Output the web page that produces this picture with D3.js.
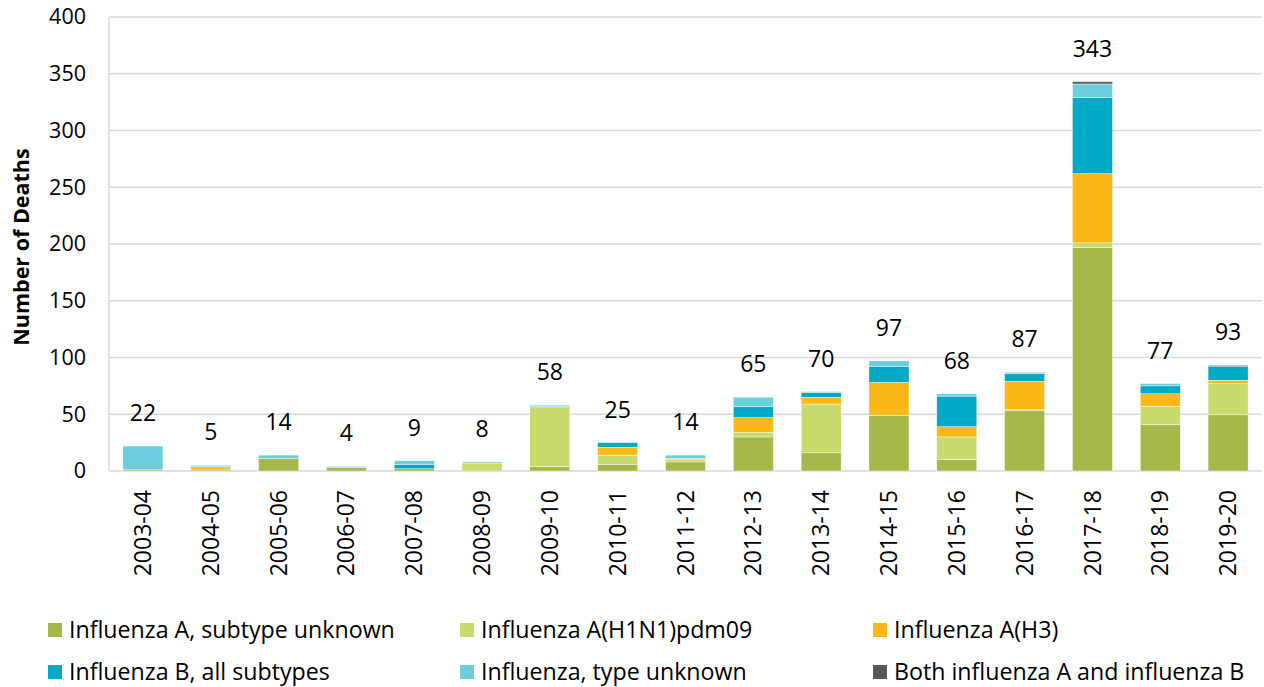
<!DOCTYPE html>
<html>
<head>
<meta charset="utf-8">
<script src="https://cdn.jsdelivr.net/npm/d3@7/dist/d3.min.js"></script>
<style>
  html, body { margin: 0; padding: 0; background: #fff; }
  svg { display: block; font-family: "Open Sans", sans-serif; }
</style>
</head>
<body>
<svg id="chart" width="1264" height="687"></svg>
<script>
// ---- Data ----
const seasons = ["2003-04","2004-05","2005-06","2006-07","2007-08","2008-09","2009-10","2010-11","2011-12","2012-13","2013-14","2014-15","2015-16","2016-17","2017-18","2018-19","2019-20"];
const seriesNames = ["Influenza A, subtype unknown","Influenza A(H1N1)pdm09","Influenza A(H3)","Influenza B, all subtypes","Influenza, type unknown","Both influenza A and influenza B"];
const aUnknown  = [1, 1, 11, 3, 2, 0, 4, 6, 8, 30, 16, 49, 10, 53, 197, 41, 50];
const h1n1      = [0, 0, 0, 0, 0, 7, 52, 8, 2, 4, 43, 0, 20, 1, 4, 16, 27];
const h3        = [0, 2, 0, 0, 0, 0, 0, 7, 1, 13, 6, 29, 9, 25, 61, 11, 3];
const fluB      = [0, 1, 0, 0, 4, 0, 1, 4, 0, 10, 4, 14, 27, 7, 67, 7, 12];
const typeUnk   = [21, 1, 3, 1, 3, 1, 1, 0, 3, 8, 1, 5, 2, 1, 12, 2, 0];
const both      = [0, 0, 0, 0, 0, 0, 0, 0, 0, 0, 0, 0, 0, 0, 2, 0, 1];
const totals    = [22, 5, 14, 4, 9, 8, 58, 25, 14, 65, 70, 97, 68, 87, 343, 77, 93];
const yTicks    = [0, 50, 100, 150, 200, 250, 300, 350, 400];
const colors    = ["#a7b84a", "#c8dc6e", "#fdb818", "#00a9c5", "#6ecddc", "#595959"];

const seriesArrays = [aUnknown, h1n1, h3, fluB, typeUnk, both];
const rows = seasons.map((s, i) => {
  const r = { season: s };
  seriesNames.forEach((n, k) => r[n] = seriesArrays[k][i]);
  return r;
});

// ---- Layout ----
const svg = d3.select("#chart");
const plotL = 109, plotR = 1262, plotT = 17, plotB = 471;

const x = d3.scaleBand().domain(seasons).range([plotL, plotR]).paddingInner(0.41).paddingOuter(0.205);
const y = d3.scaleLinear().domain([0, 400]).range([plotB, plotT]);

// gridlines
svg.append("g").selectAll("line").data(yTicks).join("line")
  .attr("x1", plotL).attr("x2", plotR)
  .attr("y1", d => y(d)).attr("y2", d => y(d))
  .attr("stroke", "#d9d9d9").attr("stroke-width", 1.5);

// left axis line
svg.append("line").attr("x1", plotL).attr("x2", plotL).attr("y1", plotT).attr("y2", plotB)
  .attr("stroke", "#d9d9d9").attr("stroke-width", 1.5);

// y axis
const yAxis = svg.append("g").attr("transform", `translate(${plotL},0)`)
  .call(d3.axisLeft(y).tickValues(yTicks).tickSize(0).tickPadding(23));
yAxis.select(".domain").remove();
yAxis.selectAll("text").attr("font-size", 21.5).attr("fill", "#000").attr("font-family", "Open Sans, sans-serif");

// stacked bars
const stack = d3.stack().keys(seriesNames);
const stacked = stack(rows);
svg.append("g").selectAll("g").data(stacked).join("g")
  .attr("fill", (d, i) => colors[i])
  .selectAll("rect").data(d => d).join("rect")
  .attr("x", d => x(d.data.season))
  .attr("width", x.bandwidth())
  .attr("y", d => y(d[1]))
  .attr("height", d => y(d[0]) - y(d[1]))
  .attr("stroke", d => (d[1] - d[0]) > 0 ? "#ffffff" : "none")
  .attr("stroke-width", 0.4);

// total labels
svg.append("g").selectAll("text").data(seasons).join("text")
  .attr("x", d => x(d) + x.bandwidth() / 2)
  .attr("y", (d, i) => y(totals[i]) - 25)
  .attr("text-anchor", "middle")
  .attr("font-size", 23)
  .attr("fill", "#000")
  .text((d, i) => totals[i]);

// x axis labels
const xAxis = svg.append("g").attr("transform", `translate(0,${plotB})`)
  .call(d3.axisBottom(x).tickSize(0).tickPadding(0));
xAxis.select(".domain").remove();
xAxis.selectAll("text")
  .attr("font-size", 23)
  .attr("fill", "#000")
  .attr("font-family", "Open Sans, sans-serif")
  .attr("transform", "rotate(-90)")
  .attr("text-anchor", "end")
  .attr("dy", "0.35em")
  .attr("x", -19)
  .attr("y", 0);

// y axis title
svg.append("text")
  .attr("transform", "translate(29,247) rotate(-90)")
  .attr("text-anchor", "middle")
  .attr("font-size", 21.5)
  .attr("font-weight", "bold")
  .attr("fill", "#000")
  .text("Number of Deaths");

// legend
const legCols = [48, 460, 873];
const legRows = [630, 672];
const legend = svg.append("g").selectAll("g").data(seriesNames).join("g")
  .attr("transform", (d, i) => `translate(${legCols[i % 3]},${legRows[Math.floor(i / 3)]})`);
legend.append("rect").attr("x", 0).attr("y", -7).attr("width", 14).attr("height", 14)
  .attr("fill", (d, i) => colors[i]);
legend.append("text").attr("x", 21).attr("y", 0).attr("dy", "0.35em")
  .attr("font-size", 23.2).attr("fill", "#000")
  .text(d => d);
</script>
</body>
</html>
